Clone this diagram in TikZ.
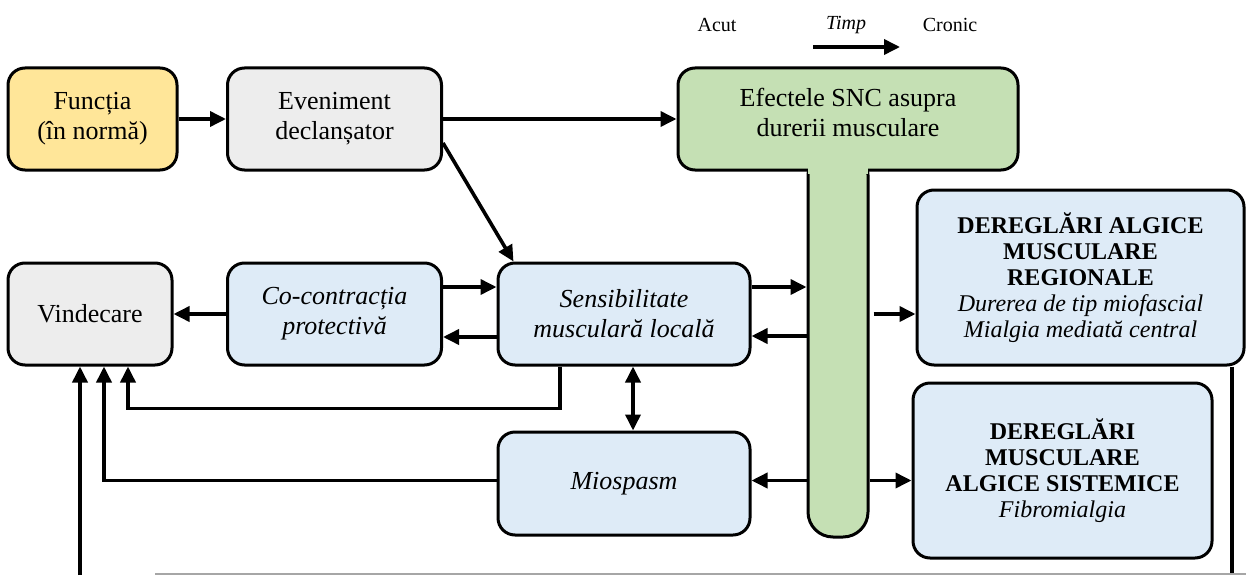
\documentclass[tikz,border=0pt]{standalone}
\usepackage{fontspec}
\setmainfont{Liberation Serif}
\usetikzlibrary{arrows.meta}
\definecolor{cyel}{HTML}{FFE699}
\definecolor{cgray}{HTML}{EDEDED}
\definecolor{cblue}{HTML}{DEEBF7}
\definecolor{cgreen}{HTML}{C5E0B4}
\begin{document}
\begin{tikzpicture}[x=1pt,y=-1pt,
 box/.style={draw=black, line width=3pt, rounded corners=17pt, align=center, inner sep=0pt, font=\fontsize{26pt}{30pt}\selectfont},
 rbox/.style={box, font=\fontsize{24pt}{26pt}\selectfont},
 arr/.style={line width=3.6pt, -{Triangle[length=16pt,width=15pt]}},
 darr/.style={line width=3.6pt, {Triangle[length=16pt,width=15pt]}-{Triangle[length=16pt,width=15pt]}},
 ln/.style={line width=3.6pt},
 lbl/.style={font=\fontsize{20pt}{24pt}\selectfont, inner sep=0pt}]
\useasboundingbox (0,0) rectangle (1246,575);
\fill[white] (0,0) rectangle (1246,575);

% nodes
\node[box, fill=cyel, minimum width=169pt, minimum height=102pt] (fun) at (92.5,119) {Funcția\\(în normă)};
\node[box, fill=cgray, minimum width=214pt, minimum height=102pt] (eve) at (334.5,119) {Eveniment\\declanșator};
\node[draw=black, line width=3pt, fill=cgreen, rounded corners=25pt, minimum width=60pt, minimum height=387pt, inner sep=0pt] (stem) at (838,343.5) {};
\node[box, fill=cgreen, minimum width=340pt, minimum height=102pt] (snc) at (848,119) {};
\fill[cgreen] ([xshift=1.7pt,yshift=5pt]stem.west |- snc.south) rectangle ([xshift=-1.7pt,yshift=-2pt]stem.east |- snc.south);
\node[font=\fontsize{26pt}{30pt}\selectfont, align=center, inner sep=0pt] (snct) at (848,112) {Efectele SNC asupra\\durerii musculare};

\node[box, fill=cgray, minimum width=164pt, minimum height=102pt] (vin) at (90,314) {Vindecare};
\node[box, fill=cblue, minimum width=214pt, minimum height=102pt, font=\fontsize{26pt}{30pt}\selectfont\itshape] (co) at (334.5,314) {Co-contracția\\protectivă};
\node[box, fill=cblue, minimum width=252pt, minimum height=102pt, font=\fontsize{26pt}{30pt}\selectfont\itshape] (sens) at (624,314) {Sensibilitate\\musculară locală};
\node[box, fill=cblue, minimum width=252pt, minimum height=103pt, font=\fontsize{26pt}{30pt}\selectfont\itshape] (mio) at (624,483.5) {Miospasm};

\node[rbox, fill=cblue, minimum width=327pt, minimum height=175pt] (reg) at (1080.5,277.5)
 {{\bfseries DEREGLĂRI ALGICE}\\{\bfseries MUSCULARE}\\{\bfseries REGIONALE}\\{\itshape Durerea de tip miofascial}\\{\itshape Mialgia mediată central}};
\node[rbox, fill=cblue, minimum width=299pt, minimum height=175pt] (sis) at (1062.5,470.5)
 {{\bfseries DEREGLĂRI}\\{\bfseries MUSCULARE}\\{\bfseries ALGICE SISTEMICE}\\{\itshape Fibromialgia}};

% top labels
\node[lbl] (acut) at (717,25) {Acut};
\node[lbl, font=\fontsize{20pt}{24pt}\selectfont\itshape] (timp) at (846,25) {Timp};
\node[lbl] (cronic) at (950,25) {Cronic};
\coordinate (t1) at (813,47);
\coordinate (t2) at (900,47);
\draw[arr] (t1) -- (t2);

% connectors
\draw[arr] (fun) -- (eve);
\draw[arr] (eve) -- (snc);
\coordinate (d0) at ([yshift=-24pt]eve.east);
\coordinate (d1) at ([xshift=17pt]sens.north west);
\draw[arr] (d0) -- (d1);
\draw[arr] ([yshift=27pt]co.east) -- ([yshift=27pt]co.east -| sens.west);
\draw[arr] ([yshift=-23pt]sens.west) -- ([yshift=-23pt]sens.west -| co.east);
\draw[arr] (co) -- (vin);
\draw[arr] ([yshift=27pt]sens.east) -- ([yshift=27pt]sens.east -| stem.west);
\draw[arr] ([yshift=-22pt]sens.east -| stem.west) -- ([yshift=-22pt]sens.east);
\draw[arr] ([xshift=4pt]stem.east |- co) -- (reg.west |- co);
\draw[arr] ([yshift=3pt]stem.west |- mio) -- ([yshift=3pt]mio.east);
\draw[arr] ([yshift=3pt]stem.east |- mio) -- ([yshift=3pt]sis.west |- mio);
\draw[darr] ([xshift=9pt]sens.south) -- ([xshift=9pt]mio.north);
\draw[arr] ([xshift=-64pt]sens.south) -- ++(0,42) -| ([xshift=38pt]vin.south);
\draw[arr] ([yshift=3pt]mio.west) -| ([xshift=14pt]vin.south);
\coordinate (b1) at (80,575);
\draw[arr] (b1) -- (b1 |- vin.south);
\coordinate (b2) at (1232,575);
\draw[ln] (b2 |- reg.south) -- (b2);
\coordinate (g1) at (155,574);
\coordinate (g2) at (1246,574);
\draw[line width=2pt, gray!70] (g1) -- (g2);
\end{tikzpicture}
\end{document}
